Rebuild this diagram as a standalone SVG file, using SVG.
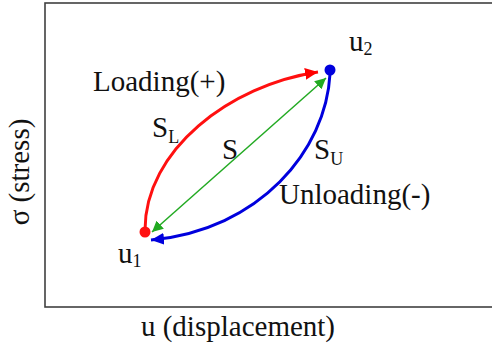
<svg xmlns="http://www.w3.org/2000/svg" width="492" height="351" viewBox="0 0 492 351">
<style>
.t{font-family:"Liberation Serif","Times New Roman",serif;font-size:29px;fill:#111}
.sub{font-size:18px}
.curve{fill:none}
</style>
<defs>
<marker id="ar" markerUnits="userSpaceOnUse" markerWidth="14" markerHeight="12" refX="13" refY="6" orient="auto"><path d="M0,0 L13,6 L0,12 Z" fill="#ff0000"/></marker>
<marker id="ab" markerUnits="userSpaceOnUse" markerWidth="14" markerHeight="12" refX="13" refY="6" orient="auto"><path d="M0,0 L13,6 L0,12 Z" fill="#0000dd"/></marker>
<marker id="ag" markerUnits="userSpaceOnUse" markerWidth="12" markerHeight="11" refX="11" refY="5.5" orient="auto-start-reverse"><path d="M0,0 L11,5.5 L0,11 Z" fill="#22aa22"/></marker>
</defs>
<rect x="45" y="3" width="470" height="304" fill="#fff" stroke="#404040" stroke-width="1.6"/>
<g id="connectors">
<path class="curve" d="M145,230 C145,150 230,85 318,72" stroke="#ff1010" stroke-width="3" marker-end="url(#ar)"/>
<path class="curve" d="M330,74 C326,150 260,230 151,240" stroke="#0000dd" stroke-width="3" marker-end="url(#ab)"/>
<path class="curve" d="M152,232 L326,78" stroke="#22aa22" stroke-width="1.5" marker-start="url(#ag)" marker-end="url(#ag)"/>
</g>
<g id="u1"><circle cx="145" cy="232" r="5.5" fill="#ff1010"/><text class="t" x="118" y="263">u<tspan class="sub" dy="4">1</tspan></text></g>
<g id="u2"><circle cx="330" cy="70" r="5.5" fill="#0000dd"/><text class="t" x="349" y="51">u<tspan class="sub" dy="4">2</tspan></text></g>
<g id="labels">
<text class="t" x="93" y="91">Loading(+)</text>
<text class="t" x="152" y="137">S<tspan class="sub" dy="6">L</tspan></text>
<text class="t" x="222" y="159">S</text>
<text class="t" x="314" y="159">S<tspan class="sub" dy="6">U</tspan></text>
<text class="t" x="279" y="204">Unloading(-)</text>
<text class="t" x="238" y="336" text-anchor="middle">u (displacement)</text>
<text class="t" transform="translate(29,172) rotate(-90)" text-anchor="middle">σ (stress)</text>
</g>
</svg>
